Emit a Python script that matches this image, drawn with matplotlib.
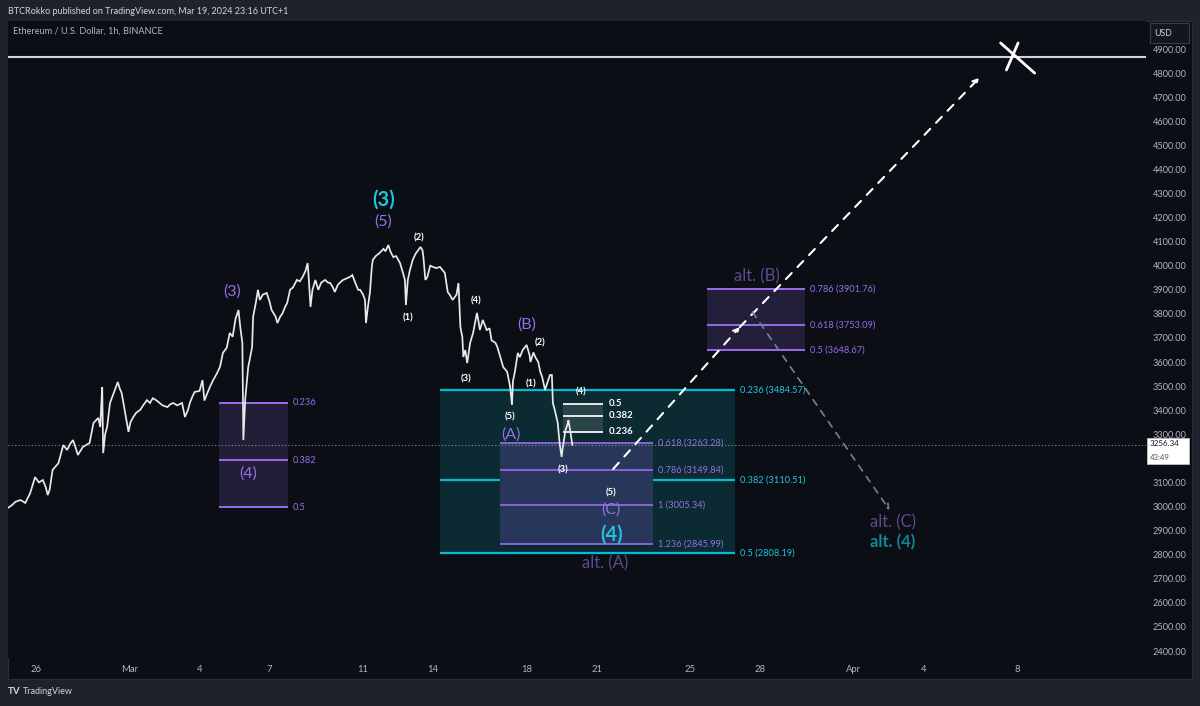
import matplotlib
matplotlib.use('Agg')
import matplotlib.pyplot as plt
from matplotlib.patches import Rectangle

plt.rcParams['font.family'] = ['Lato', 'DejaVu Sans']

W, H = 1200, 706

# ---------------- data ----------------
# hours since 2024-02-26 00:00 and approximate hourly price path
hours = [-29, -25, -21, -16, -11, -6, -1, 3, 7, 10, 12, 14, 17, 23, 28, 32, 35, 38, 41, 43,
         48, 55, 59, 64, 66, 67, 68, 69, 71, 73, 76, 81, 84, 86, 88, 91, 95, 97, 100, 103,
         107, 110, 114, 117, 120, 124, 127, 130, 135, 138, 141, 145, 150, 153, 156, 158, 161, 163, 168, 171,
         173, 176, 179, 182, 186, 189, 192, 196, 199, 202, 205, 208, 210, 212, 213, 215, 218, 220, 222, 223,
         226, 228, 230, 233, 237, 240, 242, 246, 248, 251, 253, 256, 258, 261, 264, 268, 271, 274, 277, 279,
         280, 282, 284, 287, 290, 293, 297, 300, 302, 305, 307, 310, 312, 315, 320, 323, 325, 328, 331, 333,
         336, 338, 339, 341, 343, 345, 346, 349, 353, 357, 359, 362, 364, 367, 370, 374, 377, 379, 380, 382,
         384, 387, 390, 395, 397, 398, 400, 402, 405, 408, 411, 415, 418, 420, 423, 425, 428, 432, 434, 436,
         438, 439, 441, 443, 446, 449, 453, 455, 456, 459, 463, 466, 468, 472, 474, 477, 480, 484, 487, 489,
         490, 492, 495, 497, 500, 502, 504, 507, 508, 511, 513, 516, 518, 520, 523, 525, 528, 530, 531, 533,
         536, 538, 540, 541, 544, 546, 547, 549, 551]
prices = [2994, 3005, 3020, 3027, 3015, 3056, 3122, 3100, 3110, 3080, 3048, 3070, 3152, 3180, 3255, 3235, 3260, 3276, 3240, 3214,
          3247, 3264, 3347, 3368, 3330, 3420, 3496, 3222, 3300, 3330, 3430, 3484, 3517, 3490, 3471, 3401, 3310, 3350, 3372, 3390,
          3401, 3420, 3442, 3430, 3450, 3440, 3430, 3420, 3413, 3425, 3430, 3420, 3430, 3372, 3400, 3430, 3460, 3476, 3480, 3525,
          3440, 3471, 3500, 3525, 3554, 3580, 3638, 3660, 3721, 3705, 3780, 3816, 3740, 3679, 3276, 3450, 3579, 3620, 3662, 3787,
          3850, 3900, 3858, 3880, 3887, 3850, 3816, 3790, 3762, 3790, 3800, 3830, 3845, 3900, 3910, 3941, 3935, 3954, 3980, 4011,
          3960, 3829, 3900, 3941, 3900, 3930, 3941, 3930, 3929, 3910, 3891, 3920, 3929, 3940, 3949, 3955, 3961, 3929, 3900, 3900,
          3880, 3858, 3762, 3830, 3887, 3995, 4024, 4040, 4053, 4070, 4060, 4086, 4060, 4036, 4040, 4011, 3970, 3941, 3837, 3941,
          3980, 4024, 4050, 4078, 4065, 4036, 3941, 3953, 4000, 3995, 3990, 3995, 3980, 3970, 3890, 3880, 3858, 3880, 3928, 3745,
          3704, 3621, 3650, 3596, 3680, 3720, 3804, 3760, 3733, 3775, 3733, 3740, 3690, 3680, 3662, 3621, 3579, 3560, 3500, 3422,
          3520, 3560, 3638, 3620, 3650, 3660, 3671, 3630, 3600, 3640, 3620, 3600, 3560, 3538, 3484, 3510, 3546, 3546, 3430, 3400,
          3347, 3260, 3206, 3240, 3318, 3340, 3359, 3310, 3256]

last_price = 3256.34
last_timer = "43:49"
top_line_price = 4867

date_ticks_h = [0, 96, 168, 240, 336, 408, 504, 576, 672, 744, 840, 912, 1008]
date_tick_labels = ['26', 'Mar', '4', '7', '11', '14', '18', '21', '25', '28', 'Apr', '4', '8']
price_ticks = list(range(2400, 5000, 100))

# Fibonacci structures: (start hour, end hour, level labels, level prices)
fib_left_levels = ['0.236', '0.382', '0.5']
fib_left_prices = [3430, 3193, 2998]
fib_left_span = (188, 259)

fib_teal_levels = ['0.236', '0.382', '0.5']
fib_teal_prices = [3484.57, 3110.51, 2808.19]
fib_teal_span = (415, 718)

fib_abc_levels = ['0.618', '0.786', '1', '1.236']
fib_abc_prices = [3263.28, 3149.84, 3005.34, 2845.99]
fib_abc_span = (477, 634)

fib_small_levels = ['0.5', '0.382', '0.236']
fib_small_prices = [3426, 3376, 3310]
fib_small_span = (541, 583)

fib_altb_levels = ['0.786', '0.618', '0.5']
fib_altb_prices = [3901.76, 3753.09, 3648.67]
fib_altb_span = (689, 790)

# wave labels (hour, price, text)
big_cyan_labels = [(357, 4273, '(3)'), (591, 2882, '(4)')]
purple_labels = [(357, 4182, '(5)'), (201, 3891, '(3)'), (218, 3135, '(4)'),
                 (504, 3754, '(B)'), (488, 3301, '(A)'), (591, 2986, '(C)')]
alt_purple_labels = [(585, 2765, 'alt. (A)'), (741, 3957, 'alt. (B)'), (880, 2936, 'alt. (C)')]
alt_teal_labels = [(880, 2853, 'alt. (4)')]
small_white_labels = [(393, 4115, '(2)'), (382, 3783, '(1)'), (452, 3853, '(4)'), (442, 3530, '(3)'),
                      (518, 3679, '(2)'), (509, 3509, '(1)'), (487, 3372, '(5)'), (560, 3476, '(4)'),
                      (541, 3152, '(3)'), (591, 3056, '(5)')]

# projection paths (hour, price)
white_path = [(593, 3156), (723, 3745), (969, 4780)]
gray_path = [(736, 3808), (877, 2985)]
x_mark = [((991, 4925), (1026, 4800)), ((1009, 4925), (997, 4813))]

# ---------------- styling ----------------
BG = '#1e222d'
PANEL = '#0c0e15'
PURPLE = '#9a6cf0'
PURPLE_T = '#9370e6'
CYAN = '#00bcd4'
CYAN_T = '#22c3e0'
AXIS_T = '#b2b5be'


def fx(px):
    return px / W


def fy(py):
    return 1 - py / H


fig = plt.figure(figsize=(W / 100, H / 100), dpi=100, facecolor=BG)
fig.patches.append(Rectangle((fx(8), fy(679)), 1184 / W, 658 / H, transform=fig.transFigure,
                             facecolor=PANEL, edgecolor='#2a2e39', lw=0.8, zorder=-10))

ax = fig.add_axes([fx(8), fy(658), 1138 / W, 637 / H])
ax.set_zorder(1)
ax.set_facecolor(PANEL)
for s in ax.spines.values():
    s.set_visible(False)
ax.set_xlim(-28.8, 1140.4)
ax.set_ylim(2371, 5016.3)

ax.yaxis.tick_right()
ax.set_yticks(price_ticks)
# the tick label hidden under the last-price badge is left blank
ax.set_yticklabels(['' if 0 < last_price - p < 100 else f'{p:.2f}' for p in price_ticks])
ax.tick_params(axis='y', length=0, pad=5, labelsize=6.6, labelcolor=AXIS_T)
ax.set_xticks(date_ticks_h)
ax.set_xticklabels(date_tick_labels)
ax.tick_params(axis='x', length=0, pad=5, labelsize=6.8, labelcolor=AXIS_T)


def fib_box(span, levels, vals, fill, line_c, text_c, fmt, lw=1.4, fs=6.7, weight='normal', z=1):
    x0, x1 = span
    top, bot = max(vals), min(vals)
    ax.add_patch(Rectangle((x0, bot), x1 - x0, top - bot, facecolor=fill, edgecolor='none', zorder=z))
    for lv, v in zip(levels, vals):
        ax.plot([x0, x1], [v, v], color=line_c, lw=lw, zorder=z + 0.5, solid_capstyle='butt')
        ax.text(x1 + 5, v, fmt(lv, v), color=text_c, fontsize=fs, va='center', ha='left',
                fontweight=weight, zorder=z + 0.6)


fib_box(fib_left_span, fib_left_levels, fib_left_prices, '#221e38', PURPLE, PURPLE_T,
        lambda l, v: l)
fib_box(fib_teal_span, fib_teal_levels, fib_teal_prices, '#0b2a31', CYAN, CYAN_T,
        lambda l, v: f'{l} ({v:.2f})', lw=1.6, z=1)
fib_box(fib_abc_span, fib_abc_levels, fib_abc_prices, '#283659', PURPLE, PURPLE_T,
        lambda l, v: f'{l} ({v:.2f})', lw=1.2, z=2)
fib_box(fib_small_span, fib_small_levels, fib_small_prices, '#2a4449', '#e8e8e8', 'white',
        lambda l, v: l, lw=1.4, fs=6.9, weight='bold', z=3)
fib_box(fib_altb_span, fib_altb_levels, fib_altb_prices, '#231e3a', PURPLE, PURPLE_T,
        lambda l, v: f'{l} ({v:.2f})', lw=1.4, z=1)

# horizontal line and last price line
ax.axhline(top_line_price, color='#d1d4dc', lw=1.5, zorder=4)
ax.axhline(last_price, color='#8a8d96', lw=0.8, ls=(0, (1, 2)), zorder=4)

# price path
ax.plot(hours, prices, color='#e9e9ec', lw=1.25, zorder=5, solid_joinstyle='miter')

# projection arrows
for (a, b) in zip(white_path[:-1], white_path[1:]):
    ax.annotate('', xy=b, xytext=a, zorder=6,
                arrowprops=dict(arrowstyle='->,head_length=0.35,head_width=0.18', color='white',
                                lw=1.5, linestyle=(0, (4, 4)), shrinkA=0, shrinkB=0))
ax.annotate('', xy=gray_path[1], xytext=gray_path[0], zorder=6,
            arrowprops=dict(arrowstyle='->,head_length=0.35,head_width=0.18', color='#7d808a',
                            lw=1.2, linestyle=(0, (4, 4)), shrinkA=0, shrinkB=0))
for (a, b) in x_mark:
    ax.plot([a[0], b[0]], [a[1], b[1]], color='white', lw=2.0, zorder=6, solid_capstyle='round')

# labels
for h, p, t in big_cyan_labels:
    ax.text(h, p, t, color=CYAN_T, fontsize=14.5, fontweight='bold', ha='center', va='center', zorder=7)
for h, p, t in purple_labels:
    ax.text(h, p, t, color=PURPLE_T, fontsize=11.5, ha='center', va='center', zorder=7)
for h, p, t in alt_purple_labels:
    ax.text(h, p, t, color='#5d4b8e', fontsize=12, ha='center', va='center', zorder=7)
for h, p, t in alt_teal_labels:
    ax.text(h, p, t, color='#0e8896', fontsize=12, fontweight='bold', ha='center', va='center', zorder=7)
for h, p, t in small_white_labels:
    ax.text(h, p, t, color='white', fontsize=6.8, fontweight='bold', ha='center', va='center', zorder=7)

# header
fig.text(fx(8), fy(11), 'BTCRokko published on TradingView.com, Mar 19, 2024 23:16 UTC+1',
         color='#d1d4dc', fontsize=6.5, va='center', ha='left')
fig.text(fx(13), fy(31), 'Ethereum / U.S. Dollar, 1h, BINANCE', color=AXIS_T, fontsize=6.6,
         va='center', ha='left')

# USD box
fig.patches.append(Rectangle((fx(1150), fy(43)), 39 / W, 20 / H, transform=fig.transFigure,
                             facecolor='#131620', edgecolor='#3a3e4a', lw=0.8, zorder=10))
fig.text(fx(1163), fy(33), 'USD', color='#d1d4dc', fontsize=6.3, va='center', ha='center', zorder=11)

# last price label
fig.patches.append(Rectangle((fx(1147), fy(464)), 42 / W, 26 / H, transform=fig.transFigure,
                             facecolor='white', edgecolor='#cccccc', lw=0.5, zorder=10))
fig.text(fx(1150), fy(443.5), f'{last_price:.2f}', color='#131722', fontsize=5.8, va='center', ha='left', zorder=11)
fig.text(fx(1150), fy(458), last_timer, color='#50535e', fontsize=5.6, va='center', ha='left', zorder=11)

# footer
fig.text(fx(8), fy(692), 'TV', color='#d1d4dc', fontsize=7, fontweight='bold', va='center', ha='left')
fig.text(fx(23), fy(692), 'TradingView', color='#d1d4dc', fontsize=6.5, va='center', ha='left')

fig.savefig('out.png', dpi=100, facecolor=BG)
